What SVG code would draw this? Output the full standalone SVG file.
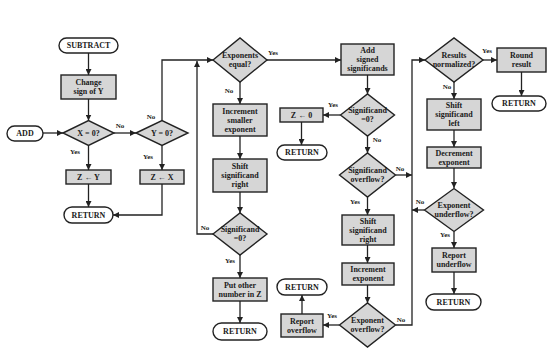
<svg xmlns="http://www.w3.org/2000/svg" width="555" height="353" viewBox="0 0 555 353">
<defs>
<style>
.box{fill:#d6d6d6;stroke:#222;stroke-width:1.4}
.dia{fill:#d6d6d6;stroke:#222;stroke-width:1.4}
.term{fill:#fff;stroke:#222;stroke-width:1.4}
text{font-family:"Liberation Serif","Times New Roman",serif;font-weight:bold;font-size:8px;fill:#1a1a1a;text-anchor:middle;dominant-baseline:central}
.lbl{font-size:7px}
.con{fill:none;stroke:#222;stroke-width:1.3}
</style>
<marker id="arr" markerUnits="userSpaceOnUse" markerWidth="7" markerHeight="6" refX="6" refY="3" orient="auto">
<path d="M0,0 L6,3 L0,6 z" fill="#222"/>
</marker>
</defs>
<rect width="555" height="353" fill="#fff"/>

<g id="connectors">
<path class="con" d="M88.5,53 V75" marker-end="url(#arr)"/>
<path class="con" d="M88.5,99 V120.5" marker-end="url(#arr)"/>
<path class="con" d="M43,133 H63" marker-end="url(#arr)"/>
<path class="con" d="M114,133 H136" marker-end="url(#arr)"/>
<path class="con" d="M88.5,145.5 V170" marker-end="url(#arr)"/>
<path class="con" d="M162,145.5 V170" marker-end="url(#arr)"/>
<path class="con" d="M88.5,184 V207" marker-end="url(#arr)"/>
<path class="con" d="M162,184 V215 H113" marker-end="url(#arr)"/>
<path class="con" d="M162,120.5 V60 H213" marker-end="url(#arr)"/>
<path class="con" d="M213,234 H197 V61" marker-end="url(#arr)"/>
<path class="con" d="M267,60 H341" marker-end="url(#arr)"/>
<path class="con" d="M240,82 V104" marker-end="url(#arr)"/>
<path class="con" d="M240,136 V159" marker-end="url(#arr)"/>
<path class="con" d="M240,192 V213" marker-end="url(#arr)"/>
<path class="con" d="M240,255 V278" marker-end="url(#arr)"/>
<path class="con" d="M240,301 V323" marker-end="url(#arr)"/>
<path class="con" d="M367.5,75 V94" marker-end="url(#arr)"/>
<path class="con" d="M340.5,115 H323" marker-end="url(#arr)"/>
<path class="con" d="M301.5,122 V145" marker-end="url(#arr)"/>
<path class="con" d="M367.5,136 V153" marker-end="url(#arr)"/>
<path class="con" d="M395.5,175 H412" marker-end="url(#arr)"/>
<path class="con" d="M367.5,197 V215" marker-end="url(#arr)"/>
<path class="con" d="M367.5,245 V263" marker-end="url(#arr)"/>
<path class="con" d="M367.5,285 V303" marker-end="url(#arr)"/>
<path class="con" d="M339.5,325 H323" marker-end="url(#arr)"/>
<path class="con" d="M302,314 V295" marker-end="url(#arr)"/>
<path class="con" d="M395.5,325 H412 V60 H425" marker-end="url(#arr)"/>
<path class="con" d="M483,60 H497" marker-end="url(#arr)"/>
<path class="con" d="M521.5,72 V96" marker-end="url(#arr)"/>
<path class="con" d="M454,82 V99" marker-end="url(#arr)"/>
<path class="con" d="M454,130 V147" marker-end="url(#arr)"/>
<path class="con" d="M454,168 V188" marker-end="url(#arr)"/>
<path class="con" d="M424.5,210 H412" marker-end="url(#arr)"/>
<path class="con" d="M454,231.5 V248" marker-end="url(#arr)"/>
<path class="con" d="M454,272 V294" marker-end="url(#arr)"/>
<text class="lbl" x="120" y="126">No</text>
<text class="lbl" x="75" y="152">Yes</text>
<text class="lbl" x="151" y="117">No</text>
<text class="lbl" x="148" y="157">Yes</text>
<text class="lbl" x="273" y="53">Yes</text>
<text class="lbl" x="229" y="91">No</text>
<text class="lbl" x="205" y="228">No</text>
<text class="lbl" x="230" y="261">Yes</text>
<text class="lbl" x="333" y="105">Yes</text>
<text class="lbl" x="377" y="140">No</text>
<text class="lbl" x="400" y="169">No</text>
<text class="lbl" x="355" y="202">Yes</text>
<text class="lbl" x="332" y="316">Yes</text>
<text class="lbl" x="401" y="320">No</text>
<text class="lbl" x="487" y="51">Yes</text>
<text class="lbl" x="447" y="87">No</text>
<text class="lbl" x="420" y="202">No</text>
<text class="lbl" x="445" y="235">Yes</text>
</g>

<g id="subtract"><rect class="term" x="59" y="38" width="59" height="15" rx="7.5"/><text x="88.5" y="45.5">SUBTRACT</text></g>
<g id="change-sign"><rect class="box" x="61" y="75" width="55" height="24"/><text x="88.5" y="82.5">Change</text><text x="88.5" y="91.5">sign of Y</text></g>
<g id="add"><rect class="term" x="7" y="126" width="36" height="15" rx="7.5"/><text x="25" y="133.5">ADD</text></g>
<g id="x-zero"><polygon class="dia" points="63,133 88.5,120.5 114,133 88.5,145.5"/><text x="88.5" y="133">X = 0?</text></g>
<g id="y-zero"><polygon class="dia" points="136,133 162,120.5 188,133 162,145.5"/><text x="162" y="133">Y = 0?</text></g>
<g id="z-y"><rect class="box" x="66" y="170" width="45" height="14"/><text x="88.5" y="177">Z ← Y</text></g>
<g id="z-x"><rect class="box" x="140" y="170" width="44" height="14"/><text x="162" y="177">Z ← X</text></g>
<g id="return1"><rect class="term" x="64" y="207" width="49" height="16" rx="8"/><text x="88.5" y="215">RETURN</text></g>

<g id="exp-equal"><polygon class="dia" points="213,60 240,38 267,60 240,82"/><text x="240" y="55.5">Exponents</text><text x="240" y="64.5">equal?</text></g>
<g id="inc-smaller"><rect class="box" x="213" y="104" width="54" height="32"/><text x="240" y="111">Increment</text><text x="240" y="120">smaller</text><text x="240" y="129">exponent</text></g>
<g id="shift-right-1"><rect class="box" x="213" y="159" width="54" height="33"/><text x="240" y="166.5">Shift</text><text x="240" y="175.5">significand</text><text x="240" y="184.5">right</text></g>
<g id="sig-zero-1"><polygon class="dia" points="213,234 240,213 267,234 240,255"/><text x="240" y="229.5">Significand</text><text x="240" y="238.5">=0?</text></g>
<g id="put-other"><rect class="box" x="213" y="278" width="54" height="23"/><text x="240" y="285">Put other</text><text x="240" y="294">number in Z</text></g>
<g id="return2"><rect class="term" x="213" y="323" width="54" height="17" rx="8.5"/><text x="240" y="331.5">RETURN</text></g>

<g id="add-signed"><rect class="box" x="341" y="44" width="53" height="31"/><text x="367.5" y="50.5">Add</text><text x="367.5" y="59.5">signed</text><text x="367.5" y="68.5">significands</text></g>
<g id="sig-zero-2"><polygon class="dia" points="340.5,115 367.5,94 394.5,115 367.5,136"/><text x="367.5" y="110.5">Significand</text><text x="367.5" y="119.5">=0?</text></g>
<g id="z-zero"><rect class="box" x="280" y="108" width="43" height="14"/><text x="301.5" y="115">Z ← 0</text></g>
<g id="return3"><rect class="term" x="277" y="145" width="50" height="15" rx="7.5"/><text x="302" y="152.5">RETURN</text></g>
<g id="sig-overflow"><polygon class="dia" points="339.5,175 367.5,153 395.5,175 367.5,197"/><text x="367.5" y="170.5">Significand</text><text x="367.5" y="179.5">overflow?</text></g>
<g id="shift-right-2"><rect class="box" x="342" y="215" width="52" height="30"/><text x="368" y="221">Shift</text><text x="368" y="230">significand</text><text x="368" y="239">right</text></g>
<g id="inc-exp"><rect class="box" x="342" y="263" width="52" height="22"/><text x="368" y="269.5">Increment</text><text x="368" y="278.5">exponent</text></g>
<g id="exp-overflow"><polygon class="dia" points="339.5,325 367.5,303 395.5,325 367.5,347"/><text x="367.5" y="320.5">Exponent</text><text x="367.5" y="329.5">overflow?</text></g>
<g id="report-overflow"><rect class="box" x="281" y="314" width="42" height="23"/><text x="302" y="321">Report</text><text x="302" y="330">overflow</text></g>
<g id="return4"><rect class="term" x="277" y="279" width="50" height="16" rx="8"/><text x="302" y="287">RETURN</text></g>

<g id="results-norm"><polygon class="dia" points="425,60 454,38 483,60 454,82"/><text x="454" y="55.5">Results</text><text x="454" y="64.5">normalized?</text></g>
<g id="round"><rect class="box" x="497" y="48" width="49" height="24"/><text x="521.5" y="55.5">Round</text><text x="521.5" y="64.5">result</text></g>
<g id="return5"><rect class="term" x="492" y="96" width="54" height="15" rx="7.5"/><text x="519" y="103.5">RETURN</text></g>
<g id="shift-left"><rect class="box" x="427" y="99" width="54" height="31"/><text x="454" y="105.5">Shift</text><text x="454" y="114.5">significand</text><text x="454" y="123.5">left</text></g>
<g id="dec-exp"><rect class="box" x="427" y="147" width="54" height="21"/><text x="454" y="153">Decrement</text><text x="454" y="162">exponent</text></g>
<g id="exp-underflow"><polygon class="dia" points="424.5,210 454,188.5 483.5,210 454,231.5"/><text x="454" y="205.5">Exponent</text><text x="454" y="214.5">underflow?</text></g>
<g id="report-underflow"><rect class="box" x="432" y="248" width="44" height="24"/><text x="454" y="255.5">Report</text><text x="454" y="264.5">underflow</text></g>
<g id="return6"><rect class="term" x="426" y="294" width="55" height="16" rx="8"/><text x="453.5" y="302">RETURN</text></g>
</svg>
